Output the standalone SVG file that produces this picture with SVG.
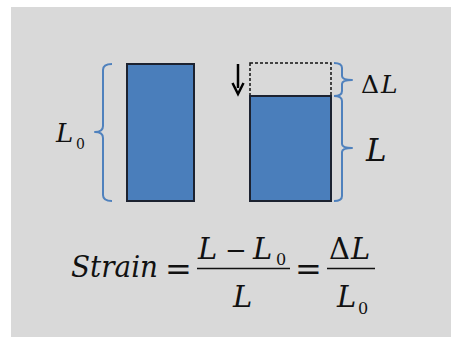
<svg xmlns="http://www.w3.org/2000/svg" width="451" height="337" viewBox="0 0 451 337">
<defs>
<style>
.bar{fill:#4a7ebb;stroke:#1c2230;stroke-width:2}
.brace{fill:none;stroke:#4f81bd;stroke-width:2;stroke-linejoin:round}
.t{font-family:"DejaVu Serif",serif;font-style:italic;fill:#111}
.u{font-family:"DejaVu Serif",serif;fill:#111}
.line{stroke:#111;stroke-width:1.5}
</style>
</defs>
<rect x="0" y="0" width="451" height="337" fill="#ffffff"/>
<rect x="11" y="7" width="440" height="330" fill="#d9d9d9"/>

<g id="original">
<rect class="bar" x="127" y="64" width="67" height="137"/>
<path class="brace" d="M112,64 Q103,64 103,70 L103,126 Q103,132 95,132 Q103,132 103,138 L103,195 Q103,201 112,201"/>
<text class="t" x="56" y="142" font-size="26">L</text>
<text class="u" x="76" y="149" font-size="14">0</text>
</g>

<g id="compressed">
<rect x="250" y="63" width="81" height="33" fill="none" stroke="#111" stroke-width="1.5" stroke-dasharray="3,2"/>
<rect class="bar" x="250" y="96" width="81" height="105"/>
<path d="M238,64 L238,88" stroke="#000" stroke-width="2.5" fill="none"/>
<path d="M232.5,83 L238,94 L243.5,83" stroke="#000" stroke-width="2.5" fill="none" stroke-linejoin="miter"/>
<path class="brace" d="M334,63 Q342,63 342,68 L342,76 Q342,80 352,80 Q342,80 342,84 L342,91 Q342,96 334,96"/>
<path class="brace" d="M334,96 Q342,96 342,101 L342,144 Q342,148 352,148 Q342,148 342,152 L342,196 Q342,201 334,201"/>
<text class="u" x="361" y="93" font-size="25">Δ</text>
<text class="t" x="381" y="93" font-size="25">L</text>
<text class="t" x="366" y="161" font-size="31">L</text>
</g>

<g id="formula">
<text class="t" x="71" y="277" font-size="30" textLength="87" lengthAdjust="spacingAndGlyphs">Strain</text>
<text class="u" x="165" y="280" font-size="32">=</text>
<text class="t" x="198" y="259" font-size="29">L</text>
<text class="u" x="225" y="259" font-size="26">−</text>
<text class="t" x="253" y="259" font-size="29">L</text>
<text class="u" x="276" y="265" font-size="16">0</text>
<line class="line" x1="197" y1="268.5" x2="290" y2="268.5"/>
<text class="t" x="233" y="307" font-size="29">L</text>
<text class="u" x="295" y="280" font-size="32">=</text>
<text class="u" x="329" y="259" font-size="29">Δ</text>
<text class="t" x="351" y="259" font-size="29">L</text>
<line class="line" x1="327" y1="268.5" x2="375" y2="268.5"/>
<text class="t" x="337" y="307" font-size="29">L</text>
<text class="u" x="358" y="314" font-size="16">0</text>
</g>
</svg>
